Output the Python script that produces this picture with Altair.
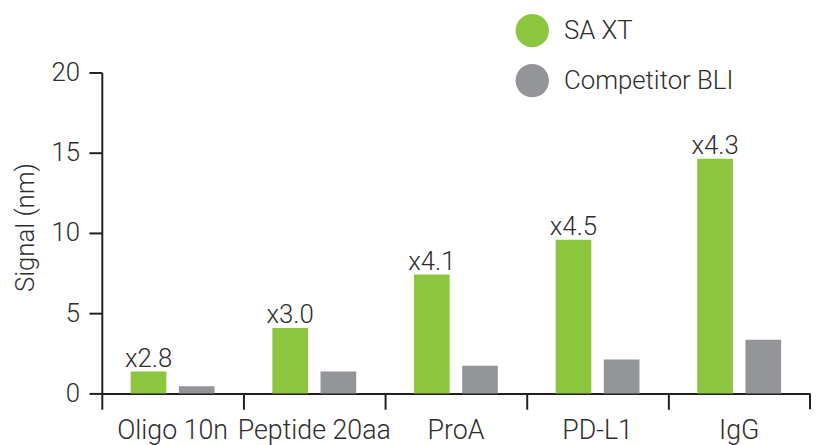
import altair as alt
import pandas as pd

# ---- data ----
categories = ["Oligo 10n", "Peptide 20aa", "ProA", "PD-L1", "IgG"]
series = ["SA XT", "Competitor BLI"]
sa_xt_values = [1.36, 4.07, 7.41, 9.57, 14.63]
competitor_values = [0.45, 1.36, 1.73, 2.12, 3.35]
fold_labels = ["x2.8", "x3.0", "x4.1", "x4.5", "x4.3"]
y_ticks = [0, 5, 10, 15, 20]
colors = ["#8cc63f", "#939598"]

rows = []
for i, c in enumerate(categories):
    rows.append({"category": c, "series": series[0], "value": sa_xt_values[i], "label": fold_labels[i]})
    rows.append({"category": c, "series": series[1], "value": competitor_values[i], "label": ""})
df = pd.DataFrame(rows)

FONT = "Roboto"
TXT = "#2e2e2e"
AX = "#231f20"
W, H = 715, 324

base = alt.Chart(df).encode(
    x=alt.X("category:N", sort=categories,
            scale=alt.Scale(paddingInner=0, paddingOuter=0),
            axis=alt.Axis(title=None, labelAngle=0, bandPosition=0, tickSize=16,
                          labelPadding=9, labelBaseline="top", labelFontSize=27)),
    xOffset=alt.XOffset("series:N", sort=series,
                        scale=alt.Scale(domain=series, paddingInner=0.26, paddingOuter=0.6)),
    y=alt.Y("value:Q", scale=alt.Scale(domain=[0, 20], nice=False),
            axis=alt.Axis(values=y_ticks, title="Signal (nm)", tickSize=13, labelPadding=9.5,
                          grid=False, titleX=-69, titleY=156, titleAngle=-90,
                          titleBaseline="alphabetic", titleAlign="center")),
)

bars = base.mark_bar().encode(
    color=alt.Color("series:N", sort=series,
                    scale=alt.Scale(domain=series, range=colors),
                    legend=alt.Legend(title=None, orient="none", legendX=417.6, legendY=-59.3,
                                      symbolType="circle", symbolSize=1134, symbolStrokeWidth=0,
                                      symbolOpacity=1, labelFontSize=26, labelFont=FONT,
                                      labelColor=TXT, labelOffset=15, rowPadding=16.5,
                                      padding=0, labelFontWeight=300, labelLimit=0))
)

text = base.transform_filter(alt.datum.series == "SA XT").mark_text(
    baseline="alphabetic", dy=-5, fontSize=26, font=FONT, color=TXT, fontWeight=300
).encode(text="label:N")

end_tick = alt.Chart(pd.DataFrame({"k": [0]})).mark_rule(color=AX, strokeWidth=2).encode(
    x=alt.value(W), y=alt.value(H), y2=alt.value(H + 16)
)

chart = alt.layer(bars, text, end_tick).properties(
    width=W, height=H,
    autosize=alt.AutoSizeParams(type="none"),
    padding={"left": 94.7, "top": 63, "right": 1, "bottom": 50},
).configure_view(stroke=None).configure_axis(
    domainColor=AX, domainWidth=2, tickColor=AX, tickWidth=2,
    labelFont=FONT, labelFontSize=26, labelColor=TXT, labelFontWeight=300,
    titleFont=FONT, titleFontSize=26, titleColor=TXT, titleFontWeight=300,
)

chart.save("out.html", embed_options={"renderer": "svg", "actions": False})
